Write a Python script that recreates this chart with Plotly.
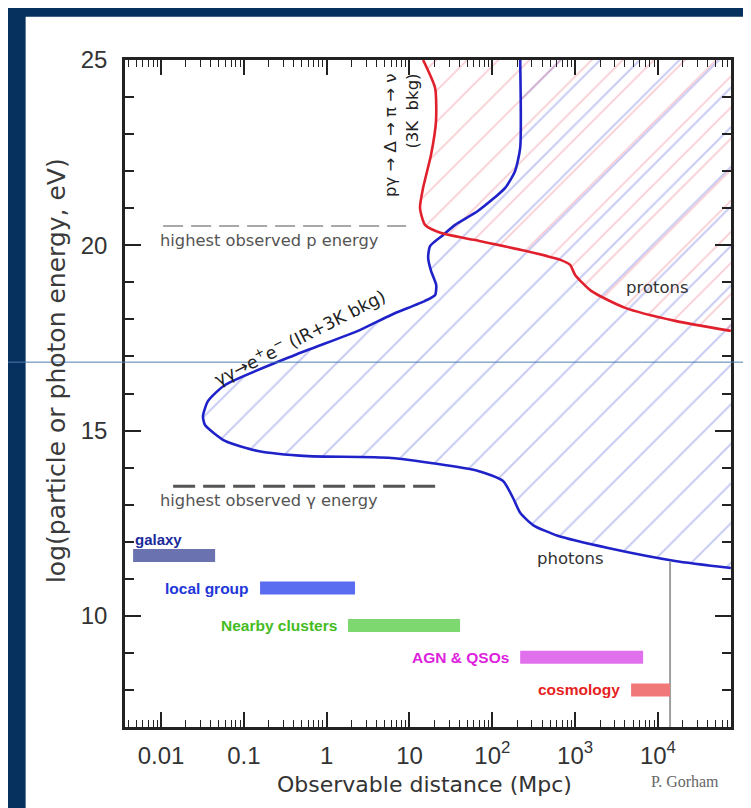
import math
import plotly.graph_objects as go

# ---------------- data ----------------
X_RANGE_LOG = [-2.435, 4.882]
Y_RANGE = [7, 25]
X_FAR, Y_FAR = 1e6, 30  # closing points outside the visible area

# photon horizon (blue)
blue_x = [217, 217, 188, 143, 67.5, 35.6, 25.5, 17.7, 16.8, 18.2, 21.0, 20.4, 15.4, 6.0, 2.39,
          0.415, 0.0593, 0.037, 0.0321, 0.034, 0.0593, 0.148, 0.596, 6.0, 67.5, 135, 178, 217,
          310, 617, 2500, 16100, 75900]
blue_y = [25, 22.63, 22.0, 21.55, 20.93, 20.55, 20.28, 19.98, 19.66, 19.31, 18.93, 18.66, 18.5,
          18.12, 17.69, 17.04, 16.23, 15.8, 15.39, 15.15, 14.72, 14.45, 14.31, 14.26, 13.91,
          13.64, 13.18, 12.78, 12.45, 12.16, 11.83, 11.48, 11.29]

# proton horizon (red)
red_x = [14.6, 20.4, 20.9, 18.2, 14.6, 13.4, 15.4, 24.1, 61.9, 249, 678, 871, 1000, 1560, 4020,
         16100, 75900]
red_y = [25, 24.24, 23.35, 22.44, 21.55, 21.0, 20.55, 20.33, 20.14, 19.85, 19.6, 19.47, 19.2,
         18.77, 18.31, 17.96, 17.69]

# highest observed energies
p_energy = 20.52
p_x = [0.0106, 9.1]
g_energy = 13.5
g_x = [0.0140, 25.5]

# distance scales
bar_names = ["galaxy", "local group", "Nearby clusters", "AGN &amp; QSOs", "cosmology"]
bar_start = [0.0046, 0.157, 1.81, 217, 4740]
bar_end = [0.045, 2.2, 40.8, 6620, 14000]
bar_y = [11.63, 10.75, 9.74, 8.88, 8.0]
bar_colors = ["#6a72b0", "#5a6cf0", "#7ed870", "#e070ec", "#f07878"]
label_colors = ["#1a2a9a", "#2236d8", "#44bb22", "#dd22dd", "#e52222"]

# Hubble-radius marker
hubble_x = 14000
hubble_y = [7, 11.48]

x_tickvals = [0.01, 0.1, 1, 10, 100, 1000, 10000]
x_ticktext = ["0.01", "0.1", "1", "10", "10<sup>2</sup>", "10<sup>3</sup>", "10<sup>4</sup>"]
y_tickvals = [10, 15, 20, 25]

L = math.log10  # annotation positions on a log axis are given in log10 units

# ---------------- figure ----------------
fig = go.Figure()

# hatched regions
fig.add_trace(go.Scatter(
    x=blue_x + [X_FAR, X_FAR, blue_x[0]], y=blue_y + [blue_y[-1], Y_FAR, Y_FAR],
    mode="lines", line=dict(width=0, shape="spline", smoothing=0.6), fill="toself",
    fillcolor="rgba(0,0,0,0)",
    fillpattern=dict(shape="/", fgcolor="rgba(70,80,215,0.6)", bgcolor="rgba(0,0,0,0)",
                     size=28, solidity=0.07),
    hoverinfo="skip", showlegend=False))
fig.add_trace(go.Scatter(
    x=red_x + [X_FAR, X_FAR, red_x[0]], y=red_y + [red_y[-1], Y_FAR, Y_FAR],
    mode="lines", line=dict(width=0, shape="spline", smoothing=0.6), fill="toself",
    fillcolor="rgba(0,0,0,0)",
    fillpattern=dict(shape="/", fgcolor="rgba(230,80,100,0.58)", bgcolor="rgba(0,0,0,0)",
                     size=22, solidity=0.08),
    hoverinfo="skip", showlegend=False))

# curves
fig.add_trace(go.Scatter(x=blue_x, y=blue_y, mode="lines",
                         line=dict(color="#1f22c8", width=2.6, shape="spline", smoothing=0.6),
                         showlegend=False))
fig.add_trace(go.Scatter(x=red_x, y=red_y, mode="lines",
                         line=dict(color="#e0202c", width=2.6, shape="spline", smoothing=0.6),
                         showlegend=False))

# highest observed energies
fig.add_trace(go.Scatter(x=p_x, y=[p_energy, p_energy], mode="lines",
                         line=dict(color="#a8a8a8", width=2, dash="20px,8px"), showlegend=False))
fig.add_trace(go.Scatter(x=g_x, y=[g_energy, g_energy], mode="lines",
                         line=dict(color="#555555", width=3, dash="22px,8px"), showlegend=False))

# Hubble line
fig.add_trace(go.Scatter(x=[hubble_x, hubble_x], y=hubble_y, mode="lines",
                         line=dict(color="#a0a0a0", width=2), showlegend=False))

# distance-scale bars
for name, x0, x1, y, c in zip(bar_names, bar_start, bar_end, bar_y, bar_colors):
    fig.add_trace(go.Scatter(x=[x0, x1], y=[y, y], mode="lines",
                             line=dict(color=c, width=13), showlegend=False))

lab_font = "Liberation Sans"
ann = []
for i, (name, x0, y, c) in enumerate(zip(bar_names, bar_start, bar_y, label_colors)):
    if i == 0:
        ann.append(dict(x=L(0.0052), y=12.05, xref="x", yref="y", text="<b>" + name + "</b>",
                        showarrow=False, xanchor="left", yanchor="middle", xshift=-5,
                        font=dict(family=lab_font, size=15, color=c)))
    else:
        ann.append(dict(x=L(x0), y=y, xref="x", yref="y", text="<b>" + name + "</b>",
                        showarrow=False, xanchor="right", yanchor="middle", xshift=-9,
                        font=dict(family=lab_font, size=15.5, color=c)))

txt_font = dict(family="DejaVu Sans", size=16.3, color="#555555")
ann += [
    dict(x=L(0.0106), y=20.14, xref="x", yref="y", text="highest observed p energy",
         showarrow=False, xanchor="left", yanchor="middle", xshift=-5, font=txt_font),
    dict(x=L(0.0106), y=13.1, xref="x", yref="y", text="highest observed \u03b3 energy",
         showarrow=False, xanchor="left", yanchor="middle", xshift=-5, font=txt_font),
    dict(x=L(871), y=11.56, xref="x", yref="y", text="photons", showarrow=False,
         font=dict(family="DejaVu Sans", size=16.5, color="#333333")),
    dict(x=L(10 ** 4.0), y=18.85, xref="x", yref="y", text="protons", showarrow=False,
         font=dict(family="DejaVu Sans", size=16.5, color="#333333")),
    dict(x=-0.334, y=17.52, xref="x", yref="y",
         text="\u03b3\u03b3\u2192e<sup>+</sup>e<sup>\u2212</sup> (IR+3K bkg)",
         showarrow=False, textangle=-27,
         font=dict(family="DejaVu Sans", size=17.5, color="#222222")),
    dict(x=0.90, y=22.98, xref="x", yref="y",
         text="p\u03b3 \u2192 \u0394 \u2192 \u03c0 \u2192 \u03bd<br>(3K\u00a0\u00a0bkg)",
         showarrow=False, textangle=-90, align="right",
         font=dict(family="DejaVu Sans", size=16.5, color="#222222")),
    dict(x=0.495, y=-0.0855, xref="paper", yref="paper", text="Observable distance (Mpc)",
         showarrow=False, xanchor="center", yanchor="middle",
         font=dict(family="DejaVu Sans", size=22, color="#333333")),
    dict(x=-0.114, y=0.535, xref="paper", yref="paper",
         text="log(particle or photon energy, eV)", showarrow=False, textangle=-90,
         xanchor="center", yanchor="middle",
         font=dict(family="DejaVu Sans", size=25, color="#3a3a3a")),
    dict(x=0.924, y=-0.081, xref="paper", yref="paper", text="P. Gorham", showarrow=False,
         xanchor="center", yanchor="middle",
         font=dict(family="Liberation Serif", size=16, color="#666666")),
]

shapes = [
    # white panel inside the navy frame
    dict(type="rect", xref="paper", yref="paper", x0=-0.164, x1=1.031, y0=-0.14, y1=1.065,
         fillcolor="white", line=dict(width=0), layer="below"),
    # thin horizontal rule across the slide
    dict(type="line", xref="paper", yref="paper", x0=-0.2, x1=1.05, y0=0.547, y1=0.547,
         line=dict(color="#4d7fb0", width=1), layer="above"),
]

axis_common = dict(showline=True, linecolor="#222222", linewidth=2.5, mirror="ticks",
                   ticks="inside", tickcolor="#222222", showgrid=False, zeroline=False,
                   tickfont=dict(family="Liberation Sans", size=24, color="#333333"))

fig.update_layout(
    width=751, height=808,
    margin=dict(l=117, r=28, t=52, b=89),
    paper_bgcolor="#06305e", plot_bgcolor="white",
    xaxis=dict(type="log", range=X_RANGE_LOG, tickvals=x_tickvals, ticktext=x_ticktext,
               ticklen=15, tickwidth=1.5, ticklabelstandoff=5,
               minor=dict(dtick="D1", ticks="inside", ticklen=7, tickwidth=1,
                          tickcolor="#222222", showgrid=False),
               **axis_common),
    yaxis=dict(range=Y_RANGE, tickvals=y_tickvals, ticklen=16, tickwidth=1.5,
               ticklabelstandoff=10,
               minor=dict(dtick=1, ticks="inside", ticklen=9, tickwidth=1.5,
                          tickcolor="#222222", showgrid=False),
               **axis_common),
    annotations=ann, shapes=shapes, showlegend=False,
)

fig.write_html("out.html")
